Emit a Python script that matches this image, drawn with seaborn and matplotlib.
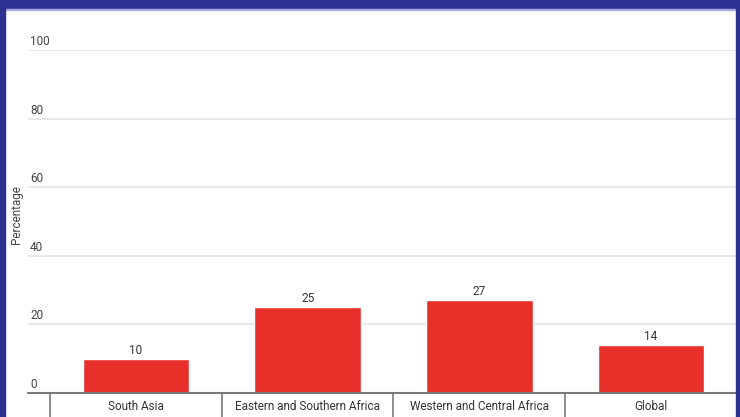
import matplotlib
matplotlib.use("Agg")
import matplotlib.pyplot as plt
import matplotlib.transforms as mtransforms
from matplotlib.patches import Rectangle
import seaborn as sns
import pandas as pd

categories = ["South Asia", "Eastern and Southern Africa", "Western and Central Africa", "Global"]
values = [10, 25, 27, 14]
yticks = [0, 20, 40, 60, 80, 100]

sns.set_theme(style="white")
plt.rcParams["font.family"] = ["Roboto", "DejaVu Sans"]

W, H = 740, 417
fig = plt.figure(figsize=(W / 100, H / 100), dpi=100)
fig.patch.set_facecolor("white")

# axes placement in pixels
x0, x1 = 28, 737
y_bottom, y_top = 393, 50
ax = fig.add_axes([x0 / W, (H - y_bottom) / H, (x1 - x0) / W, (y_bottom - y_top) / H])

df = pd.DataFrame({"category": categories, "value": values})
sns.barplot(data=df, x="category", y="value", color="#E8302A", saturation=1,
            width=0.62, ax=ax, zorder=3)

ax.set_xlim(-0.5 - 22 / 172, 3.5)
ax.set_ylim(0, 100)

for s in ["top", "right", "left", "bottom"]:
    ax.spines[s].set_visible(False)

# gridlines
for t in yticks[1:]:
    ax.axhline(t, color="#e6e6e6", lw=1.3, zorder=1)
ax.axhline(0, color="#7a7a7a", lw=1.5, zorder=4, clip_on=False)

fs = 8.5
# y tick labels drawn above gridlines
trans = mtransforms.blended_transform_factory(ax.transAxes, ax.transData)
for t in yticks:
    ax.text(2 / (x1 - x0), t + 0.6, str(t), transform=trans, ha="left", va="bottom",
            fontsize=fs, color="#444444")
ax.set_yticks([])
ax.set_ylabel("")
fig.text(17 / W, (H - 215) / H, "Percentage", rotation=90, ha="center", va="center",
         fontsize=fs, color="#444444")

# bar value labels
for i, v in enumerate(values):
    ax.text(i, v + 0.6, str(v), ha="center", va="bottom", fontsize=fs, color="#333333")

# category labels and separators
ax.set_xticks([])
ax.set_xlabel("")
transx = mtransforms.blended_transform_factory(ax.transData, ax.transAxes)
depth = 24 / (y_bottom - y_top)
for i in range(len(categories) + 1):
    ax.plot([i - 0.5, i - 0.5], [0, -depth], transform=transx, color="#7a7a7a",
            lw=1.2, clip_on=False, zorder=4)
for i, c in enumerate(categories):
    ax.text(i, -13.5 / (y_bottom - y_top), c, transform=transx, ha="center", va="center",
            fontsize=fs, color="#333333")

# border
blue = "#2E3192"
fig.patches.append(Rectangle((0, (H - 9) / H), 1, 9 / H, transform=fig.transFigure,
                             color=blue, zorder=10))
fig.patches.append(Rectangle((0, (H - 10) / H), 1, 1 / H, transform=fig.transFigure,
                             color="#a9a9e0", zorder=10))
fig.patches.append(Rectangle((0, 0), 5 / W, 1, transform=fig.transFigure,
                             color=blue, zorder=10))
fig.patches.append(Rectangle(((W - 4) / W, 0), 4 / W, 1, transform=fig.transFigure,
                             color=blue, zorder=10))

fig.savefig("out.png", dpi=100)
